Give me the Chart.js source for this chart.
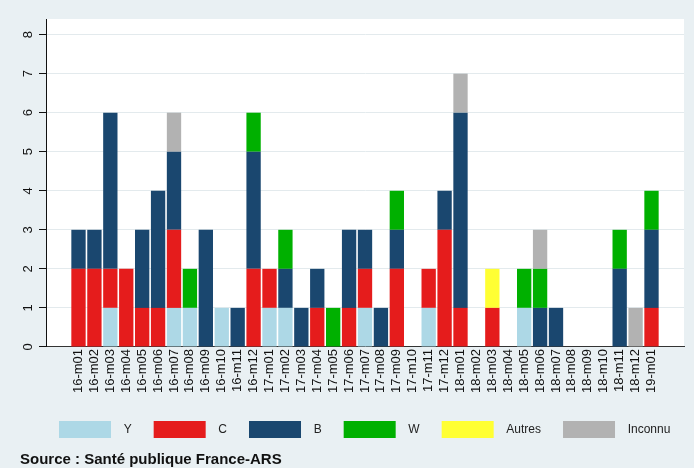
<!DOCTYPE html>
<html lang="fr">
<head>
  <meta charset="UTF-8" />
  <title>Cas par mois et sérogroupe</title>
  <style>
    body {
      margin: 0;
      background: #e9f0f3;
      font-family: 'Liberation Sans', Arial, sans-serif;
    }

    #wrap {
      position: relative;
      width: 694px;
      height: 468px;
    }

    #source {
      position: absolute;
      left: 20px;
      top: 451px;
      font-weight: bold;
      font-size: 15px;
      line-height: 15px;
      color: #111;
      white-space: nowrap;
    }
  </style>
</head>
<body>
  <div id="wrap">
    <canvas id="chart" width="694" height="468"></canvas>
    <div id="source">Source : Santé publique France-ARS</div>
  </div>

  <script src="https://cdn.jsdelivr.net/npm/chart.js"></script>
  <script>
    // mois (année-mois)
    const months = [
      '16-m01', '16-m02', '16-m03', '16-m04', '16-m05', '16-m06',
      '16-m07', '16-m08', '16-m09', '16-m10', '16-m11', '16-m12',
      '17-m01', '17-m02', '17-m03', '17-m04', '17-m05', '17-m06',
      '17-m07', '17-m08', '17-m09', '17-m10', '17-m11', '17-m12',
      '18-m01', '18-m02', '18-m03', '18-m04', '18-m05', '18-m06',
      '18-m07', '18-m08', '18-m09', '18-m10', '18-m11', '18-m12',
      '19-m01'
    ];

    // nombre de cas par sérogroupe
    const serY = [0, 0, 1, 0, 0, 0, 1, 1, 0, 1, 0, 0,  1, 1, 0, 0, 0, 0, 1, 0, 0, 0, 1, 0,  0, 0, 0, 0, 1, 0, 0, 0, 0, 0, 0, 0,  0];
    const serC = [2, 2, 1, 2, 1, 1, 2, 0, 0, 0, 0, 2,  1, 0, 0, 1, 0, 1, 1, 0, 2, 0, 1, 3,  1, 0, 1, 0, 0, 0, 0, 0, 0, 0, 0, 0,  1];
    const serB = [1, 1, 4, 0, 2, 3, 2, 0, 3, 0, 1, 3,  0, 1, 1, 1, 0, 2, 1, 1, 1, 0, 0, 1,  5, 0, 0, 0, 0, 1, 1, 0, 0, 0, 2, 0,  2];
    const serW = [0, 0, 0, 0, 0, 0, 0, 1, 0, 0, 0, 1,  0, 1, 0, 0, 1, 0, 0, 0, 1, 0, 0, 0,  0, 0, 0, 0, 1, 1, 0, 0, 0, 0, 1, 0,  1];
    const autres = [0, 0, 0, 0, 0, 0, 0, 0, 0, 0, 0, 0,  0, 0, 0, 0, 0, 0, 0, 0, 0, 0, 0, 0,  0, 0, 1, 0, 0, 0, 0, 0, 0, 0, 0, 0,  0];
    const inconnu = [0, 0, 0, 0, 0, 0, 1, 0, 0, 0, 0, 0,  0, 0, 0, 0, 0, 0, 0, 0, 0, 0, 0, 0,  1, 0, 0, 0, 0, 1, 0, 0, 0, 0, 0, 1,  0];

    const yTicks = [0, 1, 2, 3, 4, 5, 6, 7, 8];

    const BG = '#e9f0f3';

    // fond gris-bleu + zone de tracé blanche
    const plotBg = {
      id: 'plotBg',
      beforeDraw(chart) {
        const { ctx, chartArea: a } = chart;
        ctx.save();
        ctx.fillStyle = BG;
        ctx.fillRect(0, 0, chart.width, chart.height);
        ctx.fillStyle = '#fff';
        ctx.fillRect(a.left, a.top, a.right - a.left, a.bottom - a.top);
        ctx.restore();
      }
    };

    // étiquettes de l'axe Y tournées à 90°
    const yLabels = {
      id: 'yLabels',
      afterDraw(chart) {
        const { ctx, scales: { y } } = chart;
        ctx.save();
        ctx.fillStyle = '#111';
        ctx.font = "13px 'Liberation Sans', Arial, sans-serif";
        ctx.textAlign = 'center';
        ctx.textBaseline = 'middle';
        yTicks.forEach(v => {
          ctx.save();
          ctx.translate(28, y.getPixelForValue(v));
          ctx.rotate(-Math.PI / 2);
          ctx.fillText(String(v), 0, 0);
          ctx.restore();
        });
        ctx.restore();
      }
    };

    // décalage de la légende (elle commence plus à droite et un peu plus bas)
    const legendShift = {
      id: 'legendShift',
      afterLayout(chart) {
        const lg = chart.legend;
        if (lg) {
          lg.left += 22;
          lg.right += 22;
          lg.top += 4;
          lg.bottom += 4;
        }
      }
    };

    Chart.defaults.font.family = "'Liberation Sans', Arial, sans-serif";
    Chart.defaults.color = '#111';

    const series = [
      { label: 'Y', data: serY, color: '#add8e6' },
      { label: 'C', data: serC, color: '#e51c1c' },
      { label: 'B', data: serB, color: '#1a476f' },
      { label: 'W', data: serW, color: '#00b000' },
      { label: 'Autres', data: autres, color: '#ffff33' },
      { label: 'Inconnu', data: inconnu, color: '#b2b2b2' }
    ];

    const ctx = document.getElementById('chart').getContext('2d');
    new Chart(ctx, {
      type: 'bar',
      data: {
        labels: months.map((m, i) => i),
        datasets: series.map(s => ({
          label: s.label,
          data: s.data,
          backgroundColor: s.color,
          borderWidth: 0,
          barPercentage: 0.9,
          categoryPercentage: 1
        }))
      },
      options: {
        responsive: false,
        animation: false,
        layout: {
          padding: { top: 19, right: 10, left: 15, bottom: 24 }
        },
        plugins: {
          tooltip: { enabled: false },
          legend: {
            position: 'bottom',
            align: 'start',
            labels: {
              boxWidth: 52,
              boxHeight: 17,
              padding: 22,
              font: { size: 12 },
              color: '#222',
              generateLabels(chart) {
                const items = Chart.defaults.plugins.legend.labels.generateLabels(chart);
                return items.map(it => Object.assign(it, { text: '  ' + it.text }));
              }
            }
          }
        },
        scales: {
          x: {
            type: 'linear',
            stacked: true,
            min: -1.5,
            max: 37.5,
            grid: { display: false, drawTicks: false },
            border: { display: true, color: '#333', width: 1 },
            afterBuildTicks(scale) {
              scale.ticks = months.map((m, i) => ({ value: i }));
            },
            ticks: {
              autoSkip: false,
              minRotation: 90,
              maxRotation: 90,
              padding: 2,
              font: { size: 13 },
              color: '#111',
              callback: v => months[v]
            }
          },
          y: {
            stacked: true,
            min: 0,
            max: 8.4,
            afterBuildTicks(scale) {
              scale.ticks = yTicks.map(v => ({ value: v }));
            },
            afterFit(scale) {
              scale.width = 31;
            },
            grid: {
              color: ctx => ctx.tick && ctx.tick.value === 0 ? 'rgba(0,0,0,0)' : '#e3eaed',
              tickColor: '#111',
              tickLength: 7,
              lineWidth: 1
            },
            border: { display: true, color: '#111', width: 1 },
            ticks: { display: false }
          }
        }
      },
      plugins: [plotBg, yLabels, legendShift]
    });
  </script>
</body>
</html>
